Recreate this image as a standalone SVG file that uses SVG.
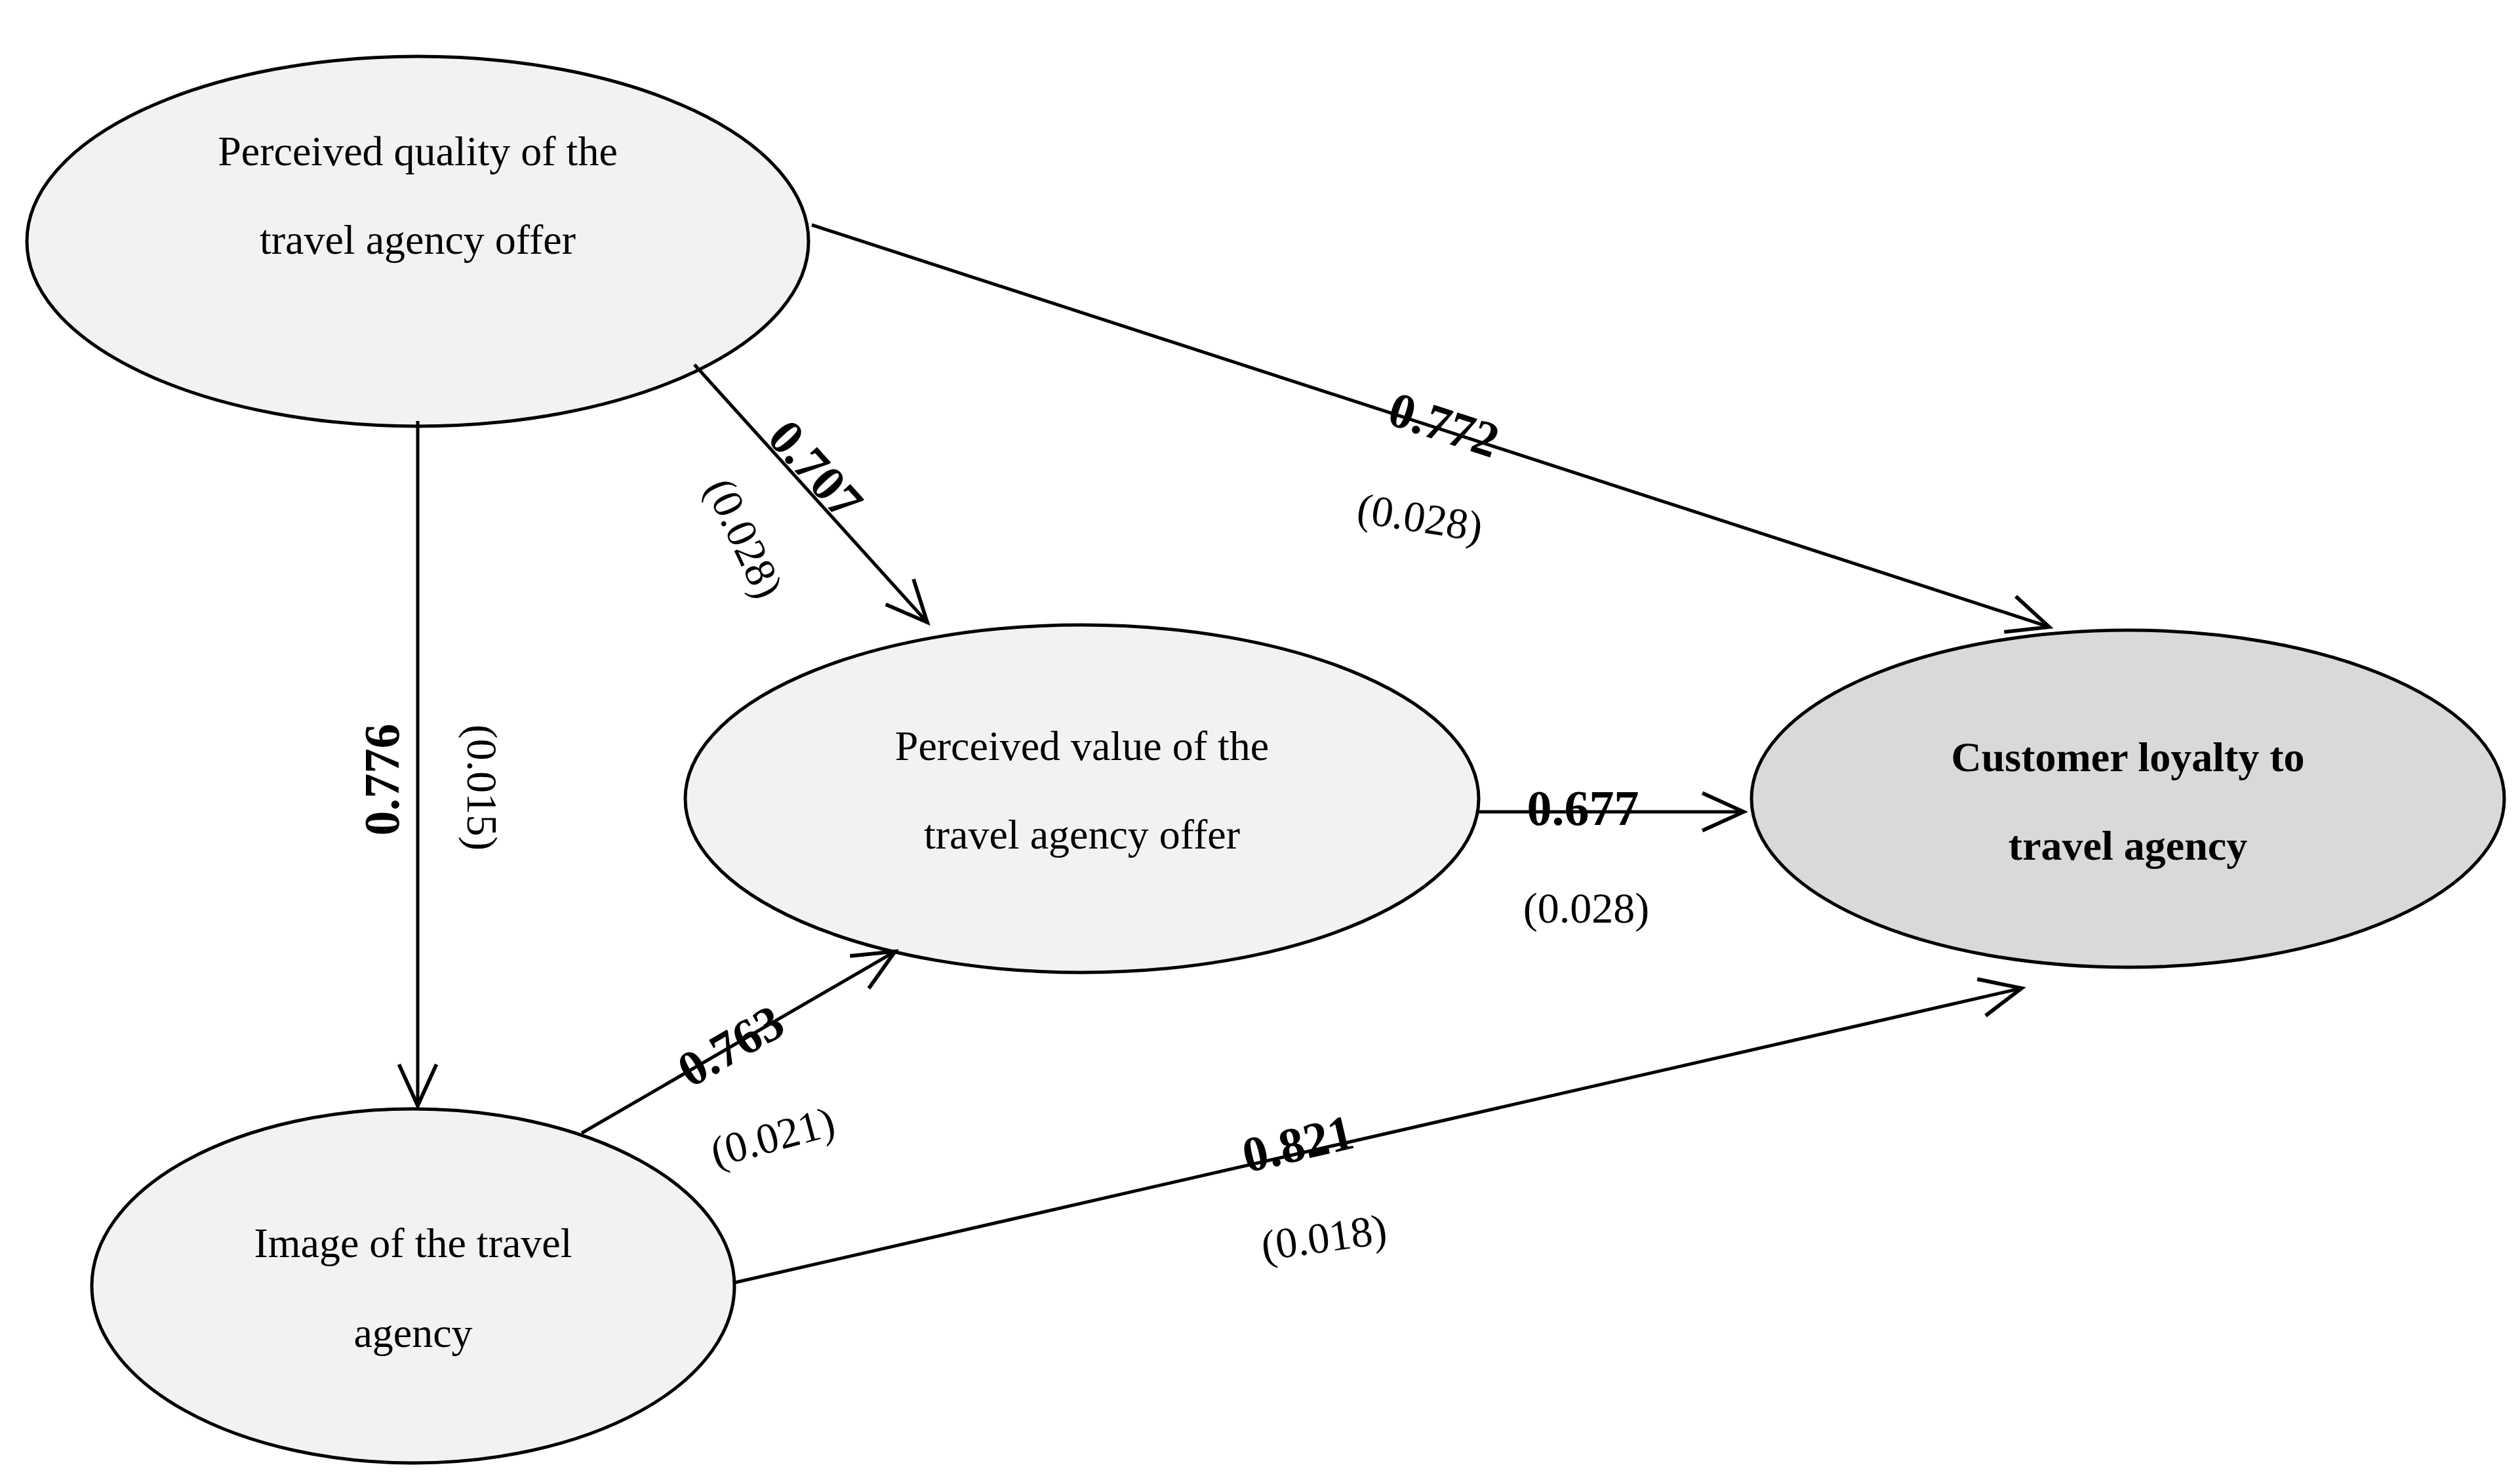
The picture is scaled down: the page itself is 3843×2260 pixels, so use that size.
<svg xmlns="http://www.w3.org/2000/svg" width="3843" height="2260" viewBox="0 0 3843 2260">
<style>
.n{stroke:#000;stroke-width:5}
.t{font-family:"Liberation Serif",serif;font-size:64px;text-anchor:middle}
.b{font-family:"Liberation Serif",serif;font-size:76px;font-weight:bold;text-anchor:middle}
.p{font-family:"Liberation Serif",serif;font-size:66px;text-anchor:middle}
.c{stroke:#000;stroke-width:5;fill:none;marker-end:url(#a)}
</style>
<defs><marker id="a" markerUnits="userSpaceOnUse" markerWidth="80" markerHeight="80" viewBox="-60 -30 70 60" refX="0" refY="0" orient="auto"><path d="M-55,-25 L0,0 L-55,25" fill="none" stroke="#000" stroke-width="5"/></marker></defs>
<rect width="3843" height="2260" fill="#fff"/>
<g id="quality"><ellipse class="n" cx="637" cy="368" rx="596" ry="282" fill="#f2f2f2"/><text class="t" x="637" y="252">Perceived quality of the</text><text class="t" x="637" y="387">travel agency offer</text></g>
<g id="value"><ellipse class="n" cx="1650" cy="1218" rx="605" ry="265" fill="#f2f2f2"/><text class="t" x="1650" y="1159">Perceived value of the</text><text class="t" x="1650" y="1294">travel agency offer</text></g>
<g id="loyalty"><ellipse class="n" cx="3245" cy="1218" rx="574" ry="257" fill="#d9d9d9"/><text class="t" x="3245" y="1176" font-weight="bold">Customer loyalty to</text><text class="t" x="3245" y="1311" font-weight="bold">travel agency</text></g>
<g id="image"><ellipse class="n" cx="630" cy="1961" rx="490" ry="270" fill="#f2f2f2"/><text class="t" x="630" y="1917">Image of the travel</text><text class="t" x="630" y="2054">agency</text></g>
<g id="connectors">
<line class="c" x1="1238" y1="343" x2="3125" y2="956"/>
<line class="c" x1="1059" y1="556" x2="1414" y2="949"/>
<line class="c" x1="637" y1="642" x2="637" y2="1686"/>
<line class="c" x1="2255" y1="1238" x2="2659" y2="1238"/>
<line class="c" x1="887" y1="1728" x2="1365" y2="1451"/>
<line class="c" x1="1120" y1="1956" x2="3083" y2="1507"/>
</g>
<g id="labels">
<text class="b" transform="translate(2194,672) rotate(18)">0.772</text>
<text class="p" transform="translate(2162,811) rotate(9)">(0.028)</text>
<text class="b" transform="translate(1225,733) rotate(48)">0.707</text>
<text class="p" transform="translate(1115,830) rotate(65)">(0.028)</text>
<text class="b" transform="translate(608,1189) rotate(-90)">0.776</text>
<text class="p" transform="translate(713,1201) rotate(90)">(0.015)</text>
<text class="b" transform="translate(2414,1258)">0.677</text>
<text class="p" transform="translate(2419,1407)">(0.028)</text>
<text class="b" transform="translate(1127,1617) rotate(-30)">0.763</text>
<text class="p" transform="translate(1184,1755) rotate(-15)">(0.021)</text>
<text class="b" transform="translate(1985,1769) rotate(-13)">0.821</text>
<text class="p" transform="translate(2022,1909) rotate(-8)">(0.018)</text>
</g>
</svg>
